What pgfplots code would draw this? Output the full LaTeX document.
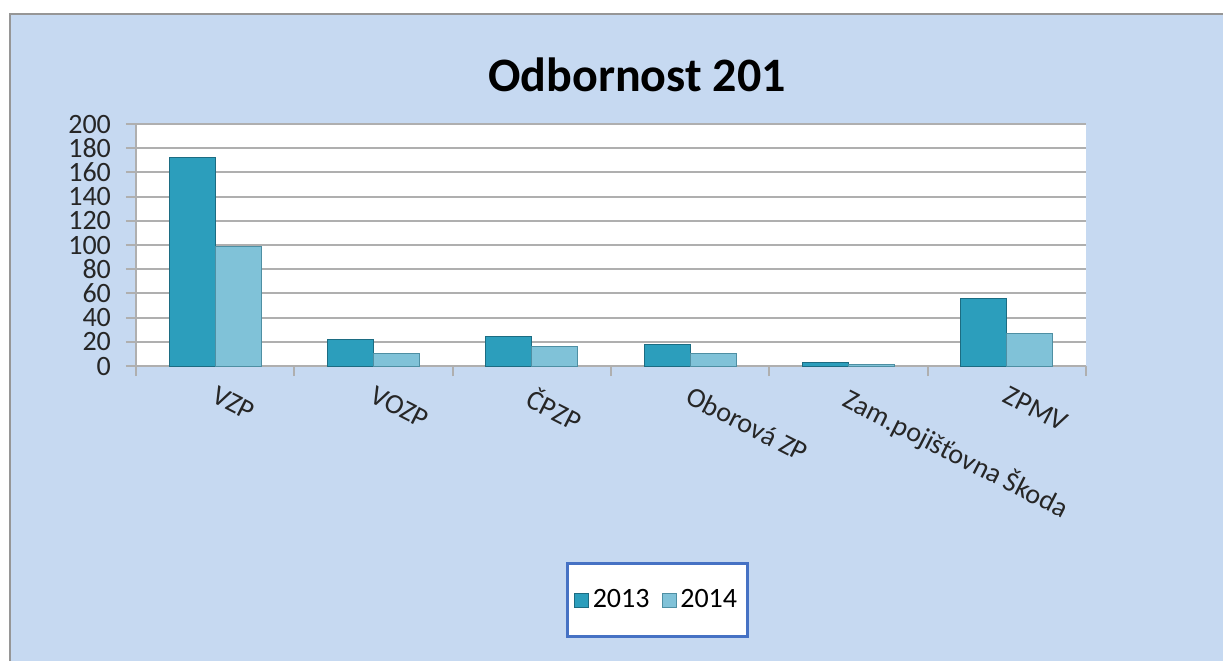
\documentclass[border=0pt]{standalone}
\usepackage{pgfplots}
\pgfplotsset{compat=1.18}
\usepackage{fontspec}
\setmainfont{Carlito}
\definecolor{bgblue}{RGB}{198,217,241}
\definecolor{frame}{RGB}{150,150,150}
\definecolor{darkF}{RGB}{44,158,188}
\definecolor{darkE}{RGB}{28,108,130}
\definecolor{lightF}{RGB}{128,194,216}
\definecolor{lightE}{RGB}{78,143,163}
\definecolor{legblue}{RGB}{70,114,196}
\definecolor{gridgray}{RGB}{175,175,175}
\begin{document}
\begin{tikzpicture}
% picture frame, 0.5pt per reference pixel
\path[use as bounding box] (-68pt,-147.5pt) rectangle (543.5pt,183pt);
\fill[bgblue] (-63pt,-147.5pt) rectangle (543.5pt,176pt);
\draw[frame, line width=0.6pt] (-63pt,-147.5pt) -- (-63pt,176pt) -- (543.5pt,176pt);

\begin{axis}[
    scale only axis,
    width=475pt, height=121pt,
    ybar=0pt,
    bar width=23pt,
    ymin=0, ymax=200,
    ytick={0,20,...,200},
    xmin=-0.5, xmax=5.5,
    xtick={-0.5,0.5,...,5.5},
    x tick label as interval,
    xticklabels={VZP, VOZP, ČPZP, Oborová ZP, Zam.pojišťovna Škoda, ZPMV},
    axis x line*=bottom,
    axis y line*=left,
    axis line style={gridgray, line width=1pt},
    tick style={gridgray, line width=1pt},
    tick align=outside,
    major tick length=5pt,
    ymajorgrids,
    grid style={gridgray, line width=1pt},
    axis background/.style={fill=white},
    tick label style={font=\fontsize{14}{16}\selectfont, text=black!85},
    /pgf/number format/assume math mode=true,
    yticklabel style={xshift=-4pt},
    xticklabel style={rotate=-27, anchor=north west},
    legend columns=2,
    legend style={at={(0.549,-0.967)}, anchor=center, draw=legblue,
        line width=1.5pt, fill=white, inner xsep=3pt, inner ysep=11pt,
        font=\fontsize{14}{16}\selectfont,
        /tikz/every even column/.append style={column sep=4pt}},
    legend image code/.code={\draw[#1, line width=0.4pt] (0pt,-3.5pt) rectangle (7pt,3.5pt);},
]

% 2013
\addplot[draw=darkE, line width=0.5pt, fill=darkF] coordinates {
    (0,172) (1,22) (2,24) (3,18) (4,3) (5,56)
};

% 2014
\addplot[draw=lightE, line width=0.5pt, fill=lightF] coordinates {
    (0,99) (1,10) (2,16) (3,10) (4,1) (5,27)
};

\legend{2013, 2014}
\end{axis}

\node[font=\fontsize{24}{28}\selectfont\bfseries] at (250.5pt,145.5pt) {Odbornost 201};
\end{tikzpicture}
\end{document}
